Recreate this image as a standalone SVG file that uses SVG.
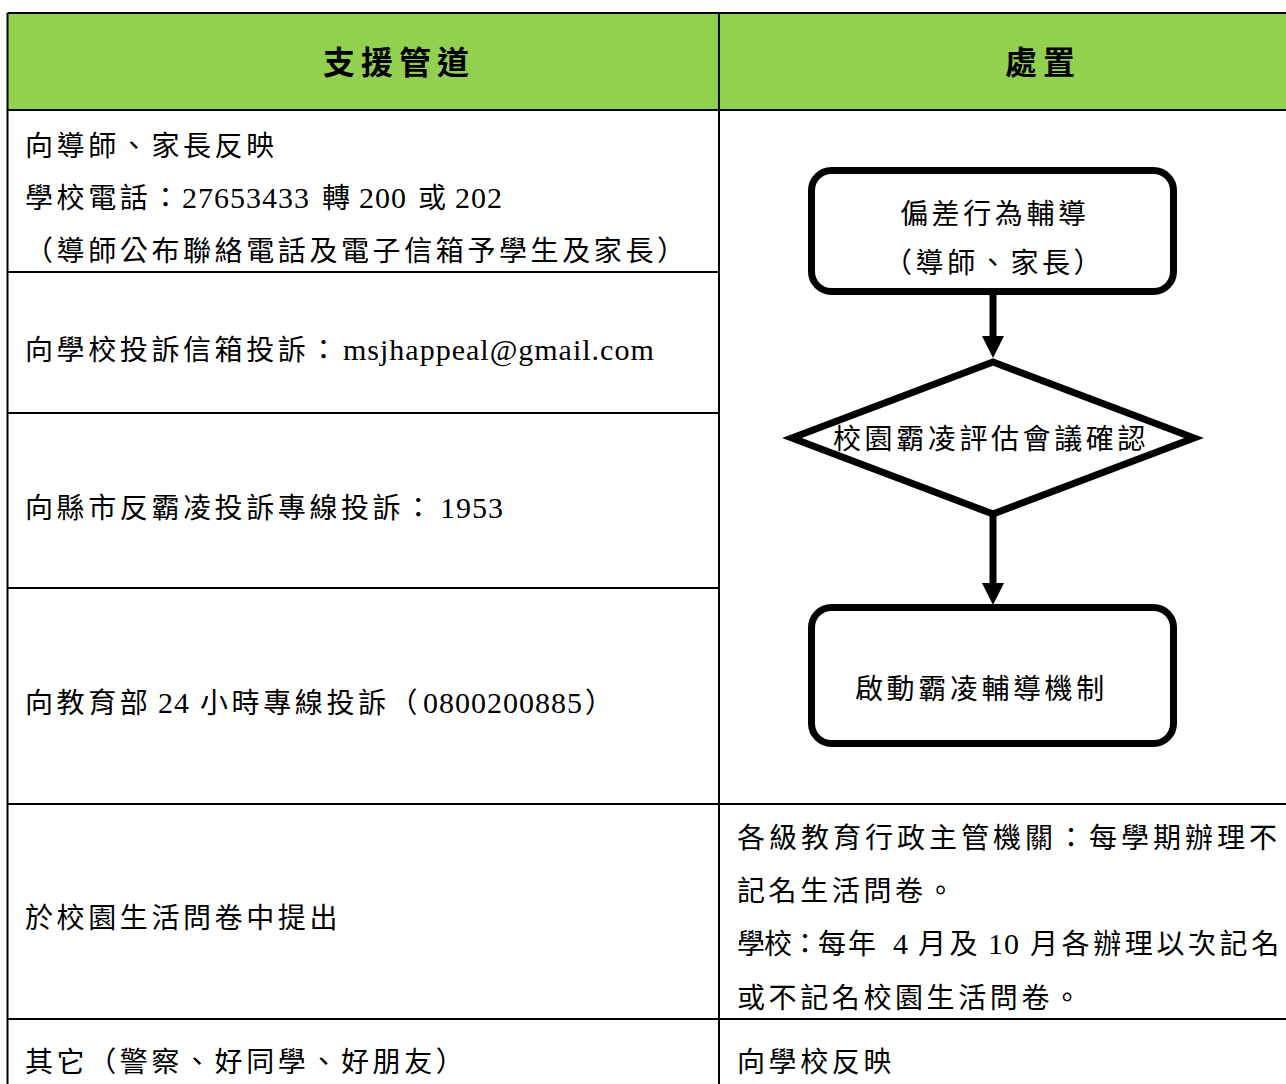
<svg xmlns="http://www.w3.org/2000/svg" width="1286" height="1084" viewBox="0 0 1286 1084">
<style>
.t{font-family:"Liberation Serif","Noto Sans CJK TC",serif;font-size:28px;letter-spacing:3.6px;fill:#000}
.n{font-size:30px;letter-spacing:1px}
.h{font-family:"Noto Sans CJK TC",sans-serif;font-size:32px;font-weight:700;letter-spacing:6px;fill:#000}
.grid{stroke:#000;stroke-width:2;fill:none}
.box{fill:#fff;stroke:#000;stroke-width:7}
.conn{stroke:#000;stroke-width:7;fill:none}
</style>
<defs>
<marker id="arr" viewBox="0 0 22 22" refX="0" refY="11" markerWidth="22" markerHeight="22" markerUnits="userSpaceOnUse" orient="auto">
<path d="M0,0 L22,11 L0,22 z" fill="#000"/>
</marker>
</defs>
<rect width="1286" height="1084" fill="#fff"/>
<g id="table">
<rect x="7.5" y="13" width="1279" height="97" fill="#92D050"/>
<path class="grid" d="M7.5,13 H1286 M7.5,13 V1084 M719,13 V1084 M7.5,110 H1286 M7.5,272 H719 M7.5,413 H719 M7.5,588 H719 M7.5,804 H1286 M7.5,1019 H1286"/>
</g>
<g id="header">
<text class="h" x="323" y="74">支援管道</text>
<text class="h" x="1005" y="74">處置</text>
</g>
<g id="left-col">
<text class="t" x="25" y="156">向導師、家長反映</text>
<text class="t" x="25" y="208">學校電話：<tspan class="n" x="182">27653433</tspan><tspan x="322">轉</tspan><tspan class="n" x="359">200</tspan><tspan x="418">或</tspan><tspan class="n" x="455">202</tspan></text>
<text class="t" x="25" y="261">（導師公布聯絡電話及電子信箱予學生及家長）</text>
<text class="t" x="25" y="360">向學校投訴信箱投訴：<tspan class="n" x="343">msjhappeal@gmail.com</tspan></text>
<text class="t" x="25" y="518">向縣市反霸凌投訴專線投訴：<tspan class="n" x="440">1953</tspan></text>
<text class="t" x="25" y="713">向教育部<tspan class="n" x="158">24</tspan><tspan x="200">小時專線投訴（</tspan><tspan class="n" x="423">0800200885</tspan><tspan x="585">）</tspan></text>
<text class="t" x="25" y="928">於校園生活問卷中提出</text>
<text class="t" x="25" y="1072">其它（警察、好同學、好朋友）</text>
</g>
<g id="right-col">
<text class="t" x="737" y="848" style="letter-spacing:4px">各級教育行政主管機關：每學期辦理不</text>
<text class="t" x="737" y="901">記名生活問卷。</text>
<text class="t" x="737" y="954"><tspan style="letter-spacing:-1px">學校：每</tspan><tspan x="848">年</tspan><tspan class="n" x="893">4</tspan><tspan x="918">月及</tspan><tspan class="n" x="988">10</tspan><tspan x="1030">月各辦理以次記名</tspan></text>
<text class="t" x="737" y="1008">或不記名校園生活問卷。</text>
<text class="t" x="737" y="1072">向學校反映</text>
</g>
<g id="connectors">
<line class="conn" x1="993" y1="294" x2="993" y2="336" marker-end="url(#arr)"/>
<line class="conn" x1="993" y1="514" x2="993" y2="583" marker-end="url(#arr)"/>
</g>
<g id="node-guidance">
<rect class="box" x="811.5" y="170.5" width="362" height="121" rx="20"/>
<text class="t" x="900" y="224">偏差行為輔導</text>
<text class="t" x="884" y="273">（導師、家長）</text>
</g>
<g id="node-assessment">
<polygon class="box" points="993,362 1194,438 993,514 792,438"/>
<text class="t" x="833" y="449">校園霸凌評估會議確認</text>
</g>
<g id="node-mechanism">
<rect class="box" x="811.5" y="607.5" width="362" height="136" rx="20"/>
<text class="t" x="855" y="699">啟動霸凌輔導機制</text>
</g>
</svg>
